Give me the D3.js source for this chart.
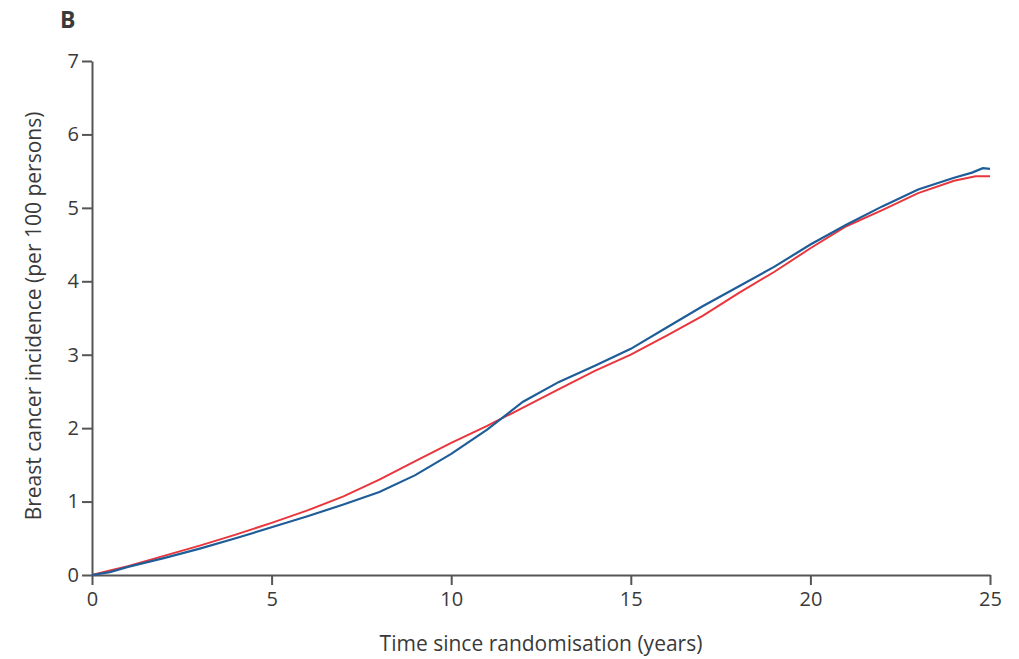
<!DOCTYPE html>
<head>
  <meta charset="utf-8">
  <script src="https://d3js.org/d3.v7.min.js"></script>
  <style>
    body { margin:0; background:#fff; }
    text { font-family: "Open Sans", sans-serif; fill:#3a3a3a; }
  </style>
</head>
<body>
<script>
// years since randomisation
var blueT = [0, 0.5, 1, 2, 3, 4, 5, 6, 7, 8, 9, 10, 11, 12, 13, 14, 15, 16, 17, 18, 19, 20, 21, 22, 23, 24, 24.5, 24.8, 25];
var blueV = [0, 0.04, 0.11, 0.23, 0.36, 0.5, 0.65, 0.8, 0.96, 1.13, 1.36, 1.65, 1.98, 2.36, 2.63, 2.85, 3.08, 3.37, 3.66, 3.93, 4.2, 4.5, 4.77, 5.02, 5.25, 5.41, 5.48, 5.54, 5.53];
var redT = [0, 0.5, 1, 2, 3, 4, 5, 6, 7, 8, 9, 10, 11, 12, 13, 14, 15, 16, 17, 18, 19, 20, 21, 22, 23, 24, 24.6, 25];
var redV = [0, 0.06, 0.12, 0.26, 0.4, 0.55, 0.71, 0.88, 1.07, 1.3, 1.55, 1.8, 2.03, 2.28, 2.53, 2.78, 3.0, 3.26, 3.53, 3.84, 4.13, 4.45, 4.75, 4.97, 5.2, 5.37, 5.43, 5.43];
var xTicks = [0, 5, 10, 15, 20, 25];
var yTicks = [0, 1, 2, 3, 4, 5, 6, 7];

var width = 1019, height = 659;
var svg = d3.select("body").append("svg")
  .attr("width", width).attr("height", height);

var x = d3.scaleLinear().domain([0, 25]).range([92, 990]);
var y = d3.scaleLinear().domain([0, 7]).range([575, 61]);

var xAxis = svg.append("g")
  .attr("transform", "translate(0," + y(0) + ")")
  .call(d3.axisBottom(x).tickValues(xTicks).tickFormat(d3.format("d"))
    .tickSize(10).tickPadding(7).tickSizeOuter(0));
var yAxis = svg.append("g")
  .attr("transform", "translate(" + x(0) + ",0)")
  .call(d3.axisLeft(y).tickValues(yTicks).tickFormat(d3.format("d"))
    .tickSize(10).tickPadding(3).tickSizeOuter(0));

[xAxis, yAxis].forEach(function(a) {
  a.selectAll("path, line").attr("stroke", "#555").attr("stroke-width", 2);
  a.selectAll("text").style("font-size", "20px").attr("fill", "#3a3a3a");
});

var line = d3.line()
  .x(function(d) { return x(d[0]); })
  .y(function(d) { return y(d[1]); });

svg.append("path")
  .datum(d3.zip(redT, redV))
  .attr("d", line).attr("fill", "none")
  .attr("stroke", "#e8363c").attr("stroke-width", 2);
svg.append("path")
  .datum(d3.zip(blueT, blueV))
  .attr("d", line).attr("fill", "none")
  .attr("stroke", "#1f5d99").attr("stroke-width", 2.2);

svg.append("text")
  .attr("x", 60).attr("y", 28)
  .style("font-size", "23px").style("font-weight", "bold")
  .text("B");

svg.append("text")
  .attr("transform", "translate(41,316) rotate(-90)")
  .attr("text-anchor", "middle")
  .style("font-size", "21px")
  .text("Breast cancer incidence (per 100 persons)");

svg.append("text")
  .attr("x", 541).attr("y", 651)
  .attr("text-anchor", "middle")
  .style("font-size", "21px")
  .text("Time since randomisation (years)");
</script>
</body>
